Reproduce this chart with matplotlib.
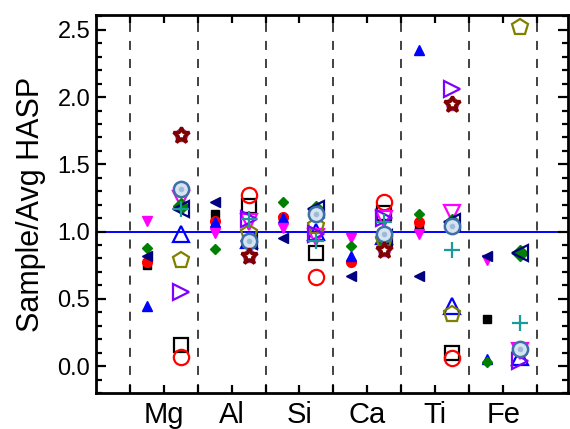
import numpy as np
import matplotlib
matplotlib.use("Agg")
import matplotlib.pyplot as plt
from matplotlib.ticker import MultipleLocator, FixedLocator

plt.rcParams['font.family'] = ['Liberation Sans', 'DejaVu Sans']

elements = ["Mg", "Al", "Si", "Ca", "Ti", "Fe"]
nan = np.nan

# small filled markers (left of each element)
s_black_sq = [0.755, 1.13, 1.09, nan, 1.03, 0.35]
s_red_circ = [0.77, 1.08, 1.11, 0.77, 1.07, nan]
s_blue_up = [0.45, 1.07, 1.10, 0.82, 2.35, 0.05]
s_mag_down = [1.076, 0.99, 1.03, 0.95, 0.98, 0.79]
s_green_dia = [0.88, 0.87, 1.22, 0.89, 1.13, 0.03]
s_navy_left = [0.82, 1.22, 0.95, 0.67, 0.67, 0.82]

# large open markers (right of each element)
l_black_sq = [0.16, 1.19, 0.84, 1.14, 0.10, nan]
l_red_circ = [0.07, 1.27, 0.66, 1.22, 0.06, nan]
l_blue_up = [0.98, 0.94, 1.00, 0.97, 0.45, 0.07]
l_mag_down = [1.24, 1.07, 0.96, 1.09, 1.14, 0.11]
l_green_dia = [1.19, 0.92, 1.17, 0.93, 1.07, 0.84]
l_navy_left = [1.17, 0.93, 1.17, 0.95, 1.07, 0.84]
l_olive_pent = [0.79, 0.99, 1.04, 0.94, 0.39, 2.52]
l_violet_right = [0.55, 1.09, 0.98, 1.10, 2.06, 0.04]
l_teal_plus = [1.17, 1.09, 0.93, 1.07, 0.86, 0.32]
l_steel_circ = [1.32, 0.93, 1.13, 0.98, 1.04, 0.13]
l_star = [1.72, 0.82, nan, 0.86, 1.95, nan]

fig = plt.figure(figsize=(5.70, 4.29), dpi=100)
ax = fig.add_axes([0.168, 0.084, 0.828, 0.881])

x = np.arange(1, len(elements) + 1)
xs = x - 0.24
xl = x + 0.25

for xv in np.arange(0.5, 7.0, 1.0):
    ax.axvline(xv, color='#333333', lw=1.3, ls=(0, (5, 5)), zorder=1)
ax.axhline(1.0, color='#0000ff', lw=1.4, zorder=1)

ms_s = 6
ax.plot(xs, s_black_sq, ls='none', marker='s', ms=ms_s, color='black', zorder=3)
ax.plot(xs, s_red_circ, ls='none', marker='o', ms=ms_s + 1, color='red', zorder=3)
ax.plot(xs, s_blue_up, ls='none', marker='^', ms=ms_s + 1, color='#0000ff', zorder=3)
ax.plot(xs, s_mag_down, ls='none', marker='v', ms=ms_s + 1, color='#ff00ff', zorder=3)
ax.plot(xs, s_green_dia, ls='none', marker='D', ms=ms_s - 0.5, color='#008000', zorder=3)
ax.plot(xs, s_navy_left, ls='none', marker='<', ms=ms_s + 1, color='#000080', zorder=3)

ms_l = 11
ew = 1.6
def openm(vals, marker, color, ms=ms_l, z=4):
    ax.plot(xl, vals, ls='none', marker=marker, ms=ms, mfc='none', mec=color,
            mew=ew, zorder=z)

openm(l_black_sq, 's', 'black', ms=10)
openm(l_red_circ, 'o', 'red')
openm(l_blue_up, '^', '#0000ff', ms=12)
openm(l_mag_down, 'v', '#ff00ff', ms=12)
ax.plot(xl, l_green_dia, ls='none', marker='D', ms=8, color='#008000', zorder=4)
openm(l_navy_left, '<', '#000080', ms=12)
openm(l_olive_pent, 'p', '#808000', ms=12)
openm(l_violet_right, '>', '#8000ff', ms=12)
ax.plot(xl, l_teal_plus, ls='none', marker='+', ms=12, mew=1.6, color='#1a9a9a', zorder=5)
ax.plot(xl, l_steel_circ, ls='none', marker='o', ms=11, mfc='#d6e3f0', mec='#3d6fa8',
        mew=1.8, zorder=5)
ax.plot(xl, l_steel_circ, ls='none', marker='o', ms=4, mfc='#9fb9d8', mec='none', zorder=6)
ax.plot(xl, l_star, ls='none', marker='p', ms=11, color='#9933aa', zorder=5)
ax.plot(xl, l_star, ls='none', marker='*', ms=12, mfc='white', mec='#800000', mew=2.4, zorder=6)

ax.set_xlim(0, 6.95)
ax.set_ylim(-0.2, 2.61)
ax.set_xticks(x)
ax.set_xticklabels(elements, fontsize=21)
ax.xaxis.set_minor_locator(FixedLocator(np.arange(0.5, 7.0, 1.0)))
ax.yaxis.set_minor_locator(MultipleLocator(0.1))
ax.set_yticks([0.0, 0.5, 1.0, 1.5, 2.0, 2.5])
ax.set_yticklabels(["0.0", "0.5", "1.0", "1.5", "2.0", "2.5"], fontsize=17)
ax.set_ylabel("Sample/Avg HASP", fontsize=22, labelpad=8)

ax.tick_params(axis='both', which='both', direction='in', top=True, right=True, width=1.6)
ax.tick_params(axis='x', which='both', length=6, pad=6)
ax.tick_params(axis='y', which='major', length=7, pad=4)
ax.tick_params(axis='y', which='minor', length=4)
for sp in ax.spines.values():
    sp.set_linewidth(2)

fig.savefig("out.png", dpi=100)
